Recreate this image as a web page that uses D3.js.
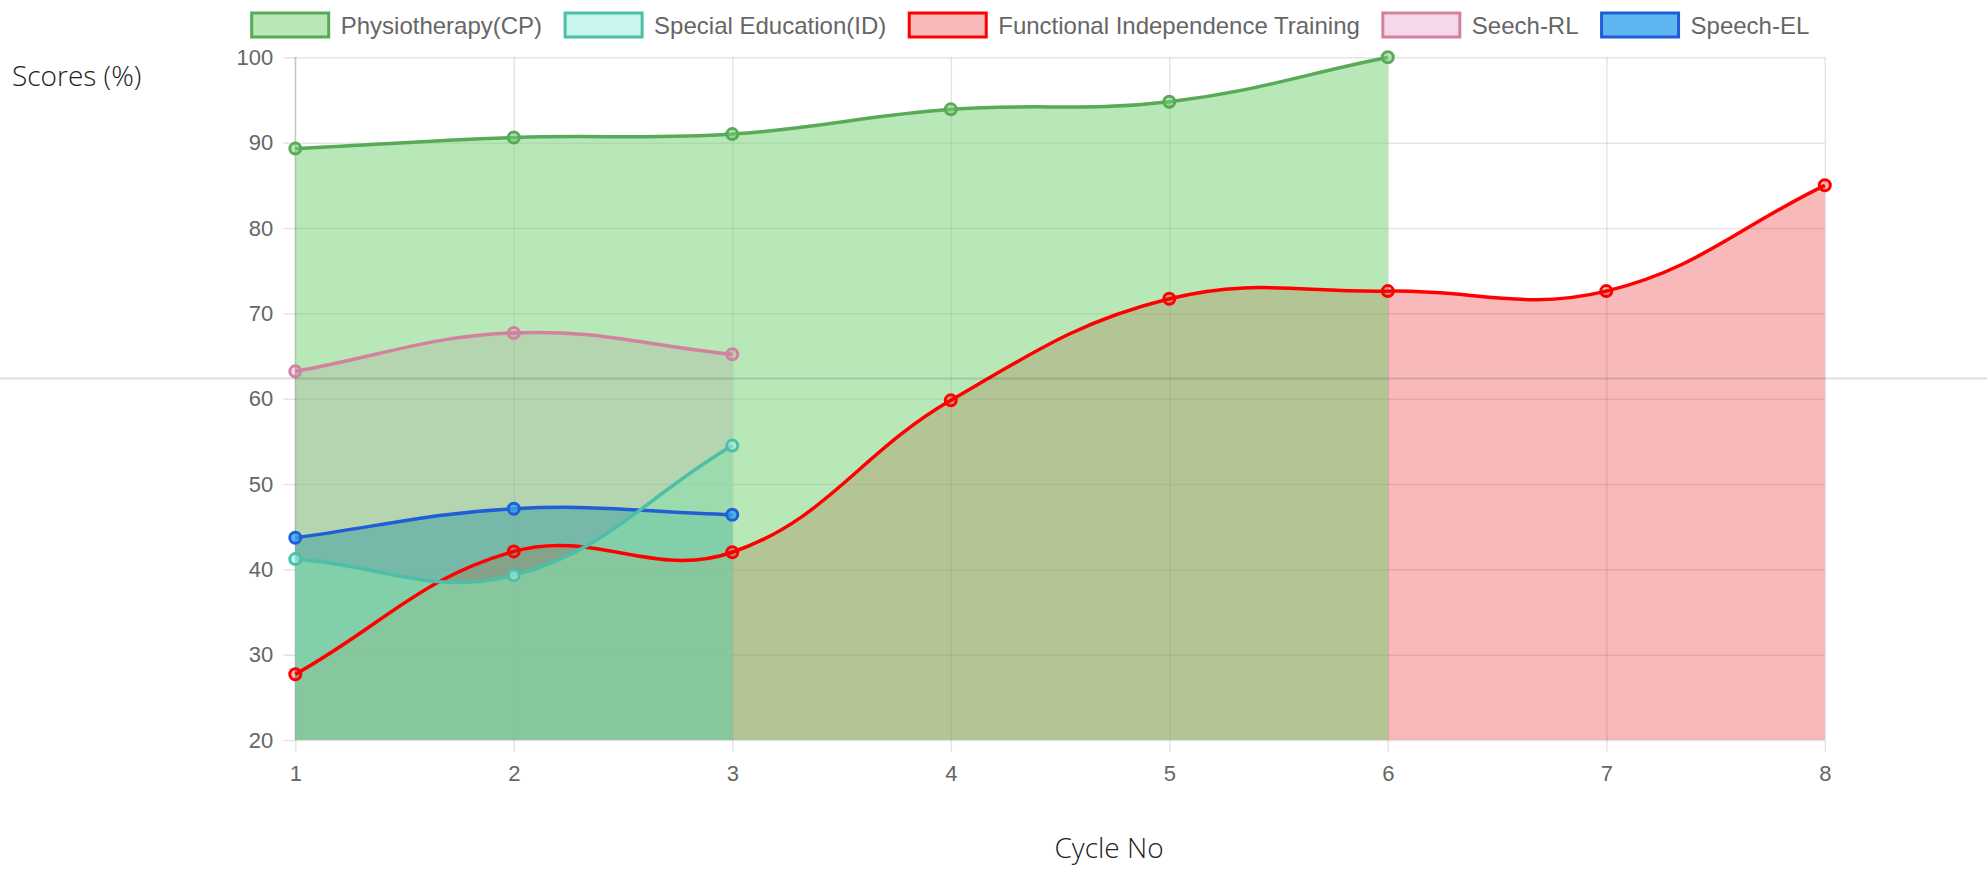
<!DOCTYPE html>
<html>
<head>
<meta charset="utf-8">
<script src="https://cdn.jsdelivr.net/npm/d3@7"></script>
<style>
  body { margin: 0; background: #fff; }
  svg { display: block; }
</style>
</head>
<body>
<svg id="chart" width="1987" height="872"></svg>
<script>
// chart data
var cycles = [1, 2, 3, 4, 5, 6, 7, 8];
var yTicks = [20, 30, 40, 50, 60, 70, 80, 90, 100];
var seriesNames = ["Physiotherapy(CP)", "Special Education(ID)", "Functional Independence Training", "Seech-RL", "Speech-EL"];
var physio = [89.3, 90.6, 91.0, 93.9, 94.8, 100];
var specialEd = [41.2, 39.3, 54.5];
var fitScores = [27.7, 42.1, 42.0, 59.8, 71.7, 72.6, 72.6, 85.0];
var speechRL = [63.2, 67.7, 65.2];
var speechEL = [43.7, 47.1, 46.4];

var width = 1987, height = 872;
var plotLeft = 295.3, plotRight = 1824.8, plotTop = 57.3, plotBottom = 740;
var tension = 0.4;

var svg = d3.select("#chart");

var x = d3.scalePoint().domain(cycles).range([plotLeft, plotRight]);
var y = d3.scaleLinear().domain([20, 100]).range([plotBottom, plotTop]);

var datasets = [
  { name: seriesNames[0], values: physio,    line: "#58aa58", fill: "rgb(113,209,113)", alpha: 0.5 },
  { name: seriesNames[1], values: specialEd, line: "#4cbfa9", fill: "rgb(162,238,229)", alpha: 0.59 },
  { name: seriesNames[2], values: fitScores, line: "#ff0000", fill: "rgb(226,0,0)",     alpha: 0.275 },
  { name: seriesNames[3], values: speechRL,  line: "#d2829f", fill: "rgb(220,100,180)", alpha: 0.25 },
  { name: seriesNames[4], values: speechEL,  line: "#215ed6", fill: "rgb(54,162,235)",  alpha: 0.8 }
];

// grid + axes
var gridColor = "rgba(0,0,0,0.1)";

var yAxis = svg.append("g")
  .attr("transform", "translate(" + (plotLeft - 12) + ",0)")
  .call(d3.axisLeft(y).tickValues(yTicks).tickSize(-(plotRight - plotLeft + 12)).tickPadding(10));
yAxis.select(".domain").remove();
yAxis.selectAll("line").attr("stroke", gridColor).attr("stroke-width", 1.5);
yAxis.selectAll("text")
  .attr("fill", "#666")
  .style("font-family", "'Liberation Sans', Arial, sans-serif")
  .style("font-size", "22px");

var xAxis = svg.append("g")
  .attr("transform", "translate(0," + (plotBottom + 12) + ")")
  .call(d3.axisBottom(x).tickSize(-(plotBottom - plotTop + 12)).tickPadding(13));
xAxis.select(".domain").remove();
xAxis.selectAll("line").attr("stroke", gridColor).attr("stroke-width", 1.5);
xAxis.selectAll("text")
  .attr("fill", "#666")
  .style("font-family", "'Liberation Sans', Arial, sans-serif")
  .style("font-size", "22px");

// y axis border a bit darker
svg.append("line")
  .attr("x1", plotLeft).attr("x2", plotLeft)
  .attr("y1", plotTop).attr("y2", plotBottom)
  .attr("stroke", "rgba(0,0,0,0.15)")
  .attr("stroke-width", 1.5);

// chart.js style spline control points
function controlPoints(pts) {
  return pts.map(function(p, i) {
    var prev = pts[i - 1] || p, next = pts[i + 1] || p;
    var d01 = Math.hypot(p[0] - prev[0], p[1] - prev[1]);
    var d12 = Math.hypot(next[0] - p[0], next[1] - p[1]);
    var s01 = d01 / (d01 + d12), s12 = d12 / (d01 + d12);
    if (isNaN(s01)) s01 = 0;
    if (isNaN(s12)) s12 = 0;
    var fa = tension * s01, fb = tension * s12;
    var cap = function(v, lo, hi) { return Math.max(lo, Math.min(hi, v)); };
    return {
      px: cap(p[0] - fa * (next[0] - prev[0]), plotLeft, plotRight),
      py: cap(p[1] - fa * (next[1] - prev[1]), plotTop, plotBottom),
      nx: cap(p[0] + fb * (next[0] - prev[0]), plotLeft, plotRight),
      ny: cap(p[1] + fb * (next[1] - prev[1]), plotTop, plotBottom)
    };
  });
}

function trace(path, pts) {
  var c = controlPoints(pts);
  for (var i = 1; i < pts.length; i++) {
    path.bezierCurveTo(c[i - 1].nx, c[i - 1].ny, c[i].px, c[i].py, pts[i][0], pts[i][1]);
  }
}

datasets.forEach(function(ds) {
  ds.pts = ds.values.map(function(v, i) { return [x(cycles[i]), y(v)]; });
});

var drawOrder = datasets.slice().reverse();

// fills first (last dataset at the bottom)
svg.append("g").selectAll("path")
  .data(drawOrder)
  .enter().append("path")
  .attr("d", function(ds) {
    var p = d3.path();
    var first = ds.pts[0], last = ds.pts[ds.pts.length - 1];
    p.moveTo(first[0], y(20));
    p.lineTo(first[0], first[1]);
    trace(p, ds.pts);
    p.lineTo(last[0], y(20));
    p.closePath();
    return p.toString();
  })
  .attr("fill", function(ds) { return ds.fill; })
  .attr("fill-opacity", function(ds) { return ds.alpha; });

// lines and points
drawOrder.forEach(function(ds) {
  var g = svg.append("g");
  var p = d3.path();
  p.moveTo(ds.pts[0][0], ds.pts[0][1]);
  trace(p, ds.pts);
  g.append("path")
    .attr("d", p.toString())
    .attr("fill", "none")
    .attr("stroke", ds.line)
    .attr("stroke-width", 3.5);
  g.selectAll("circle")
    .data(ds.pts)
    .enter().append("circle")
    .attr("cx", function(d) { return d[0]; })
    .attr("cy", function(d) { return d[1]; })
    .attr("r", 5.5)
    .attr("fill", ds.fill)
    .attr("fill-opacity", ds.alpha)
    .attr("stroke", ds.line)
    .attr("stroke-width", 3);
});

// legend
var legend = svg.append("g");
var boxW = 80, boxH = 24, textGap = 12, itemGap = 20;
var items = legend.selectAll("g")
  .data(datasets)
  .enter().append("g");
items.append("rect")
  .attr("width", boxW - 3).attr("height", boxH)
  .attr("y", 13)
  .attr("fill", function(ds) { return ds.fill; })
  .attr("fill-opacity", function(ds) { return ds.alpha; })
  .attr("stroke", function(ds) { return ds.line; })
  .attr("stroke-width", 3);
items.append("text")
  .attr("x", boxW + textGap - 3)
  .attr("y", 33.5)
  .attr("fill", "#666")
  .style("font-family", "'Liberation Sans', Arial, sans-serif")
  .style("font-size", "24px")
  .text(function(ds) { return ds.name; });

var widths = [];
items.each(function() {
  widths.push(boxW + textGap + d3.select(this).select("text").node().getComputedTextLength());
});
var total = d3.sum(widths) + itemGap * (widths.length - 1);
var cursor = 1030.5 - total / 2;
items.attr("transform", function(d, i) {
  var t = "translate(" + (cursor + 1.5) + ",0)";
  cursor += widths[i] + itemGap;
  return t;
});

// axis titles
svg.append("text")
  .attr("x", 12)
  .attr("y", 86)
  .attr("fill", "#222")
  .style("font-family", "'Open Sans', sans-serif")
  .style("font-weight", 300)
  .style("font-size", "28px")
  .text("Scores (%)");

svg.append("text")
  .attr("x", 1109)
  .attr("y", 858)
  .attr("text-anchor", "middle")
  .attr("fill", "#222")
  .style("font-family", "'Open Sans', sans-serif")
  .style("font-weight", 300)
  .style("font-size", "28px")
  .text("Cycle No");

// thin page rule across the picture
svg.append("line")
  .attr("x1", 0).attr("x2", width)
  .attr("y1", 378.5).attr("y2", 378.5)
  .attr("stroke", "rgba(0,0,0,0.13)")
  .attr("stroke-width", 2);
</script>
</body>
</html>
